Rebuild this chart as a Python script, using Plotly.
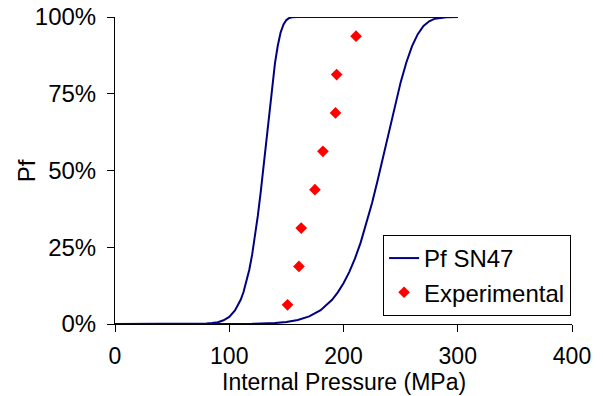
import plotly.graph_objects as go

# Left model curve
left_x = [0, 60, 70, 80, 85, 90, 95, 100, 105, 110, 112.5, 115, 117.5, 120, 122.5, 125, 127.5, 130,
          132.5, 135, 137.5, 140, 142.5, 145, 147.5, 150, 152.5, 155, 160, 300]
left_y = [0, 0, 0.0002, 0.0013, 0.003, 0.006, 0.012, 0.023, 0.044, 0.079, 0.104, 0.136, 0.176, 0.225,
          0.284, 0.352, 0.429, 0.514, 0.604, 0.692, 0.776, 0.849, 0.907, 0.950, 0.976, 0.990, 0.9968,
          0.9992, 1.0, 1.0]

# Right model curve
right_x = [0, 100, 120, 140, 150, 160, 170, 180, 190, 195, 200, 205, 210, 215, 220, 225, 230, 235, 240,
           245, 250, 255, 260, 265, 270, 275, 280, 290, 300]
right_y = [0, 0, 0.0006, 0.003, 0.0065, 0.013, 0.025, 0.045, 0.079, 0.103, 0.133, 0.169, 0.213, 0.265,
           0.326, 0.394, 0.470, 0.550, 0.632, 0.713, 0.787, 0.852, 0.905, 0.944, 0.971, 0.986, 0.9945,
           0.9995, 1.0]

# Experimental points
exp_x = [151, 161, 163, 175, 182, 193, 194, 211]
exp_y = [0.0625, 0.1875, 0.3125, 0.4375, 0.5625, 0.6875, 0.8125, 0.9375]

X_TITLE = "Internal Pressure (MPa)"
Y_TITLE = "Pf"

FONT = "Liberation Sans, Arial, sans-serif"
NAVY = "#000080"
FS = 24

fig = go.Figure()
fig.add_trace(go.Scatter(x=left_x, y=left_y, mode="lines", name="Pf SN47",
                         line=dict(color=NAVY, width=2), legendgroup="pf"))
fig.add_trace(go.Scatter(x=right_x, y=right_y, mode="lines", name="Pf SN47",
                         line=dict(color=NAVY, width=2), legendgroup="pf", showlegend=False))
fig.add_trace(go.Scatter(x=exp_x, y=exp_y, mode="markers", name="Experimental",
                         marker=dict(symbol="diamond", color="#FF0000", size=9)))

fig.update_layout(
    width=603, height=396,
    margin=dict(l=115, r=31, t=17, b=72),
    paper_bgcolor="white", plot_bgcolor="white",
    font=dict(family=FONT, size=FS, color="black"),
    showlegend=True,
    legend=dict(x=0.998, y=0.29, xanchor="right", yanchor="top",
                bgcolor="white", bordercolor="black", borderwidth=1,
                font=dict(size=FS), tracegroupgap=0, itemwidth=30),
    xaxis=dict(range=[0, 400], tickvals=[0, 100, 200, 300, 400], showgrid=False, zeroline=False,
               showline=True, linecolor="black", linewidth=1, ticks="outside", ticklen=7,
               tickcolor="black", ticklabelstandoff=4, automargin=False,
               tickfont=dict(size=23)),
    yaxis=dict(range=[0, 1], tickvals=[0, 0.25, 0.5, 0.75, 1.0], tickformat=".0%",
               showgrid=False, zeroline=False, automargin=False,
               showline=True, linecolor="black", linewidth=1, ticks="outside", ticklen=7,
               tickcolor="black", ticklabelstandoff=6),
    annotations=[
        dict(text=X_TITLE, xref="paper", yref="paper", x=0.5, y=-0.19,
             xanchor="center", yanchor="middle", showarrow=False, font=dict(size=23)),
        dict(text=Y_TITLE, xref="paper", yref="paper", x=-0.193, y=0.5, textangle=-90,
             xanchor="center", yanchor="middle", showarrow=False, font=dict(size=FS)),
    ],
)

fig.write_html("out.html")
